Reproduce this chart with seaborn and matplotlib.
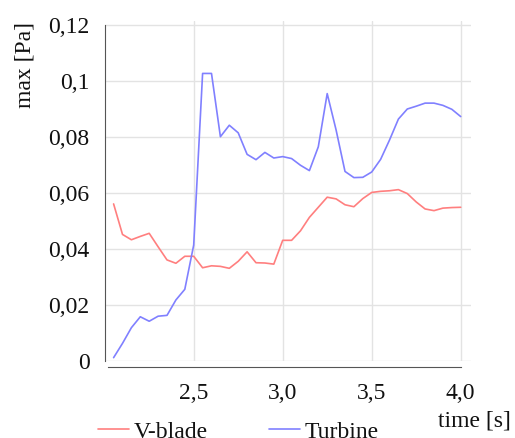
import numpy as np
import pandas as pd
import matplotlib
matplotlib.use("Agg")
import matplotlib.pyplot as plt
import seaborn as sns

# 시간축 (s)
time = [2.05, 2.10, 2.15, 2.20, 2.25, 2.30, 2.35, 2.40, 2.45, 2.50,
        2.55, 2.60, 2.65, 2.70, 2.75, 2.80, 2.85, 2.90, 2.95, 3.00,
        3.05, 3.10, 3.15, 3.20, 3.25, 3.30, 3.35, 3.40, 3.45, 3.50,
        3.55, 3.60, 3.65, 3.70, 3.75, 3.80, 3.85, 3.90, 3.95, 4.00]

vblade = [0.0561, 0.0452, 0.0433, 0.0445, 0.0456, 0.0408, 0.0361, 0.0349, 0.0374, 0.0374,
          0.0333, 0.0340, 0.0338, 0.0331, 0.0356, 0.0390, 0.0351, 0.0350, 0.0346, 0.0431,
          0.0431, 0.0465, 0.0513, 0.0549, 0.0585, 0.0579, 0.0558, 0.0551, 0.0580, 0.0602,
          0.0606, 0.0608, 0.0612, 0.0598, 0.0568, 0.0543, 0.0537, 0.0546, 0.0548, 0.0549]

turbine = [0.0012, 0.0063, 0.0119, 0.0158, 0.0142, 0.0160, 0.0163, 0.0218, 0.0256, 0.0414,
           0.1027, 0.1027, 0.0801, 0.0842, 0.0815, 0.0738, 0.0719, 0.0745, 0.0725, 0.0730,
           0.0723, 0.0699, 0.0680, 0.0765, 0.0955, 0.0825, 0.0677, 0.0655, 0.0656, 0.0675,
           0.0720, 0.0789, 0.0864, 0.0900, 0.0910, 0.0921, 0.0921, 0.0913, 0.0899, 0.0873]

series_names = ['V-blade', 'Turbine']
xticks = [2.5, 3.0, 3.5, 4.0]
xtick_labels = ['2,5', '3,0', '3,5', '4,0']
yticks = [0, 0.02, 0.04, 0.06, 0.08, 0.1, 0.12]
ytick_labels = ['0', '0,02', '0,04', '0,06', '0,08', '0,1', '0,12']

df = pd.DataFrame({
    'time': time * 2,
    'value': vblade + turbine,
    'series': [series_names[0]] * len(time) + [series_names[1]] * len(time),
})

sns.set_style('white')
plt.rcParams['font.family'] = ['Liberation Serif', 'DejaVu Serif']
plt.rcParams['text.color'] = '#111111'
plt.rcParams['xtick.labelcolor'] = '#111111'
plt.rcParams['ytick.labelcolor'] = '#111111'

fs = 17

fig = plt.figure(figsize=(5.15, 4.38), dpi=100)
ax = fig.add_axes([0.2033, 0.1758, 0.712, 0.7767])

palette = {'V-blade': '#ff7f7f', 'Turbine': '#8080ff'}
sns.lineplot(data=df, x='time', y='value', hue='series', palette=palette,
             linewidth=1.2, ax=ax, legend=True)

ax.set_xlim(2.0, 4.06)
ax.set_ylim(0, 0.1215)

# 격자
for v in yticks:
    ax.axhline(v, color='#e3e3e3', linewidth=1, zorder=0)
for v in xticks:
    ax.axvline(v, color='#e3e3e3', linewidth=1, zorder=0)

ax.set_xticks(xticks, xtick_labels)
ax.set_yticks(yticks, ytick_labels)
ax.set_xticks(np.arange(2.1, 4.01, 0.1), minor=True)
ax.set_yticks(np.arange(0, 0.1201, 0.005), minor=True)
ax.tick_params(axis='both', which='major', labelsize=fs, length=5, width=0.8,
               color='#555555', pad=6)
ax.tick_params(axis='both', which='minor', length=3, width=0.8, color='#555555')
ax.tick_params(axis='x', which='major', pad=7)

for s in ['top', 'right']:
    ax.spines[s].set_visible(False)
ax.spines['bottom'].set_position(('outward', 4))
ax.spines['bottom'].set_bounds(2.02, 4.0)
ax.spines['left'].set_bounds(0, 0.12)
for s in ['left', 'bottom']:
    ax.spines[s].set_color('#555555')
    ax.spines[s].set_linewidth(0.8)

ax.set_xlabel('')
ax.set_ylabel('')
fig.text(25 / 515, 1 - 65 / 438, 'max [Pa]', rotation=90, ha='center', va='center',
         fontsize=fs)
fig.text(474 / 515, 1 - 421 / 438, 'time [s]', ha='center', va='center', fontsize=fs)

handles, labels = ax.get_legend_handles_labels()
ax.legend(handles, labels, loc='center left', bbox_to_anchor=(98 / 515, 1 - 432 / 438),
          bbox_transform=fig.transFigure, ncol=2, frameon=False, fontsize=fs,
          handlelength=1.3, handletextpad=0.2, columnspacing=2.6, borderaxespad=0,
          borderpad=0)

fig.savefig('out.png', dpi=100)
